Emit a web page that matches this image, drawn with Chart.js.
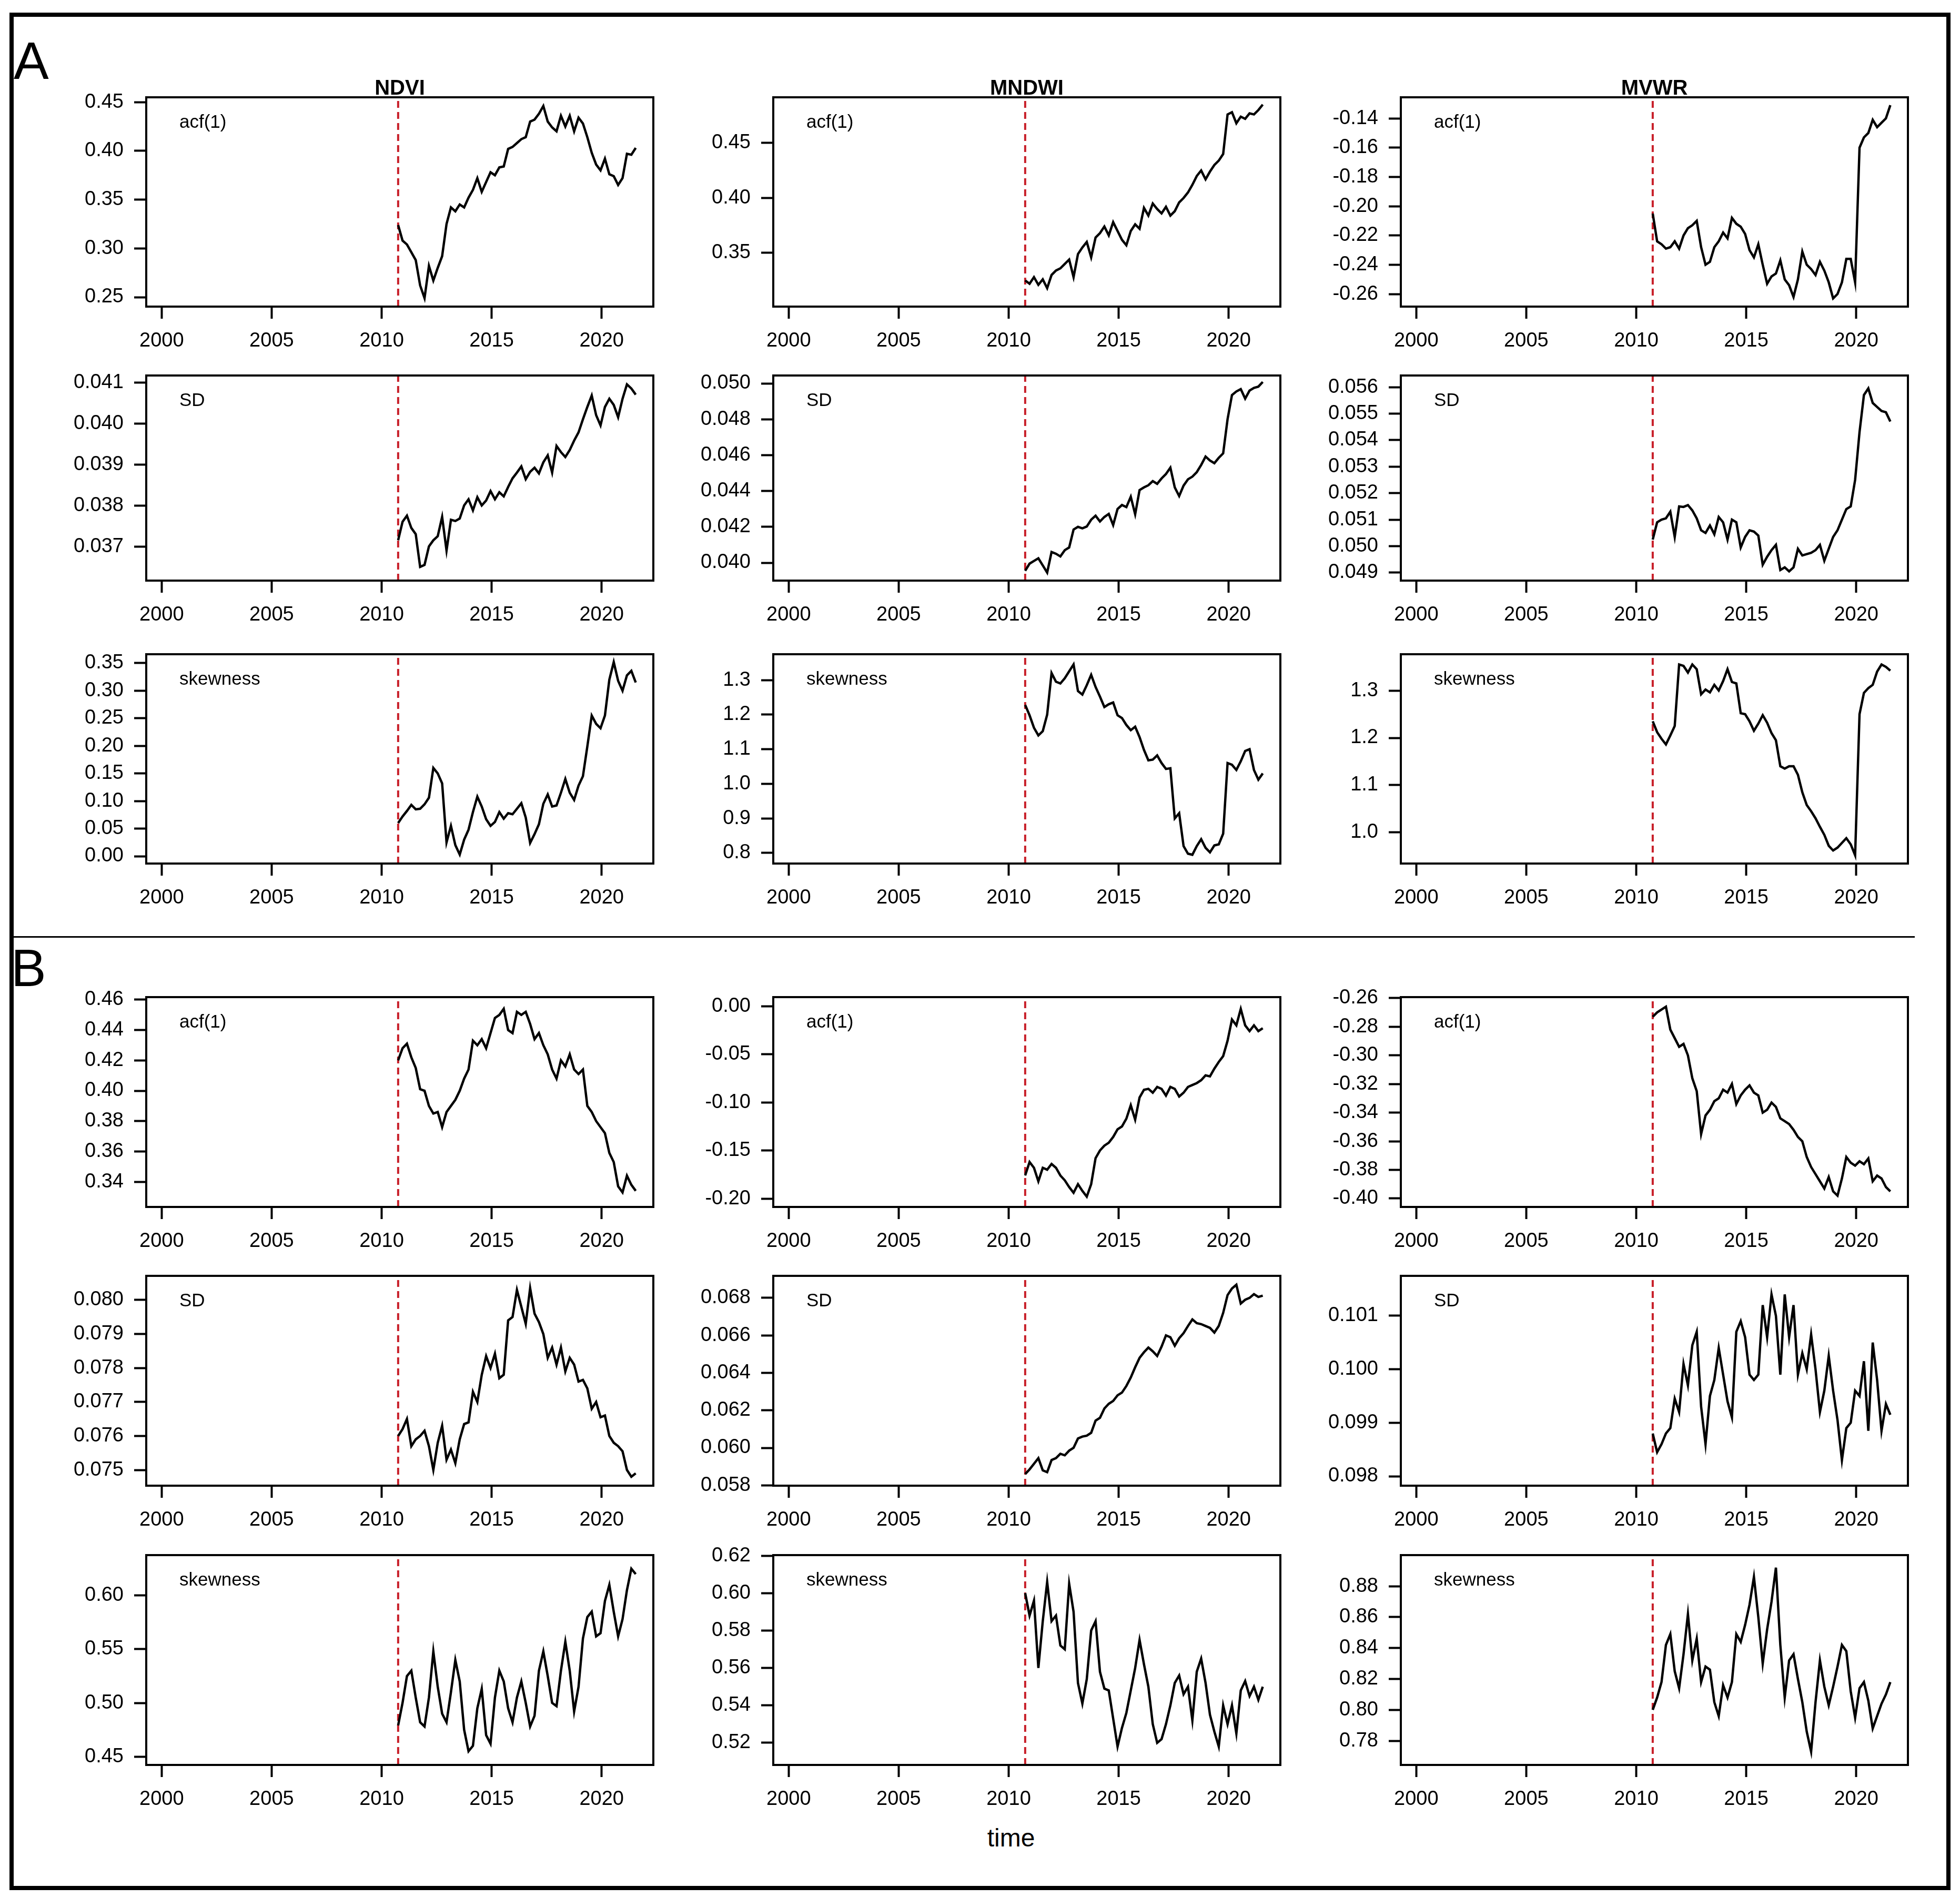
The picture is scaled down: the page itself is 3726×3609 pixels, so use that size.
<!DOCTYPE html>
<html>
<head>
<meta charset="utf-8">
<title>Rolling window indicators</title>
<script src="https://cdn.jsdelivr.net/npm/chart.js@4.4.1/dist/chart.umd.min.js"></script>
<style>
  html, body { margin: 0; padding: 0; background: #fff; }
  body { width: 3726px; height: 3609px; position: relative; overflow: hidden; font-family: 'Liberation Sans', Arial, sans-serif; color: #000; }
  #frame { position: absolute; left: 18px; top: 24px; width: 3690px; height: 3570px; border: 8px solid #000; box-sizing: border-box; }
  #divider { position: absolute; left: 22px; top: 1780px; width: 3618px; height: 3px; background: #000; }
  .txt { position: absolute; line-height: 1; white-space: nowrap; }
  .big { font-size: 100px; }
  .head { font-size: 40px; font-weight: bold; transform: translateX(-50%); }
  .lab { font-size: 35px; }
  canvas { position: absolute; }
</style>
</head>
<body>
<div id="frame"></div>
<div id="divider"></div>

<script>
// time axis of the rolling window series (decimal years)
const time = [2010.75, 2010.95, 2011.15, 2011.35, 2011.55, 2011.75, 2011.95, 2012.15, 2012.35, 2012.55,
  2012.75, 2012.95, 2013.15, 2013.35, 2013.55, 2013.75, 2013.95, 2014.15, 2014.35, 2014.55,
  2014.75, 2014.95, 2015.15, 2015.35, 2015.55, 2015.75, 2015.95, 2016.15, 2016.35, 2016.55,
  2016.75, 2016.95, 2017.15, 2017.35, 2017.55, 2017.75, 2017.95, 2018.15, 2018.35, 2018.55,
  2018.75, 2018.95, 2019.15, 2019.35, 2019.55, 2019.75, 2019.95, 2020.15, 2020.35, 2020.55,
  2020.75, 2020.95, 2021.15, 2021.35, 2021.55];
const breakYear = 2010.75;
const xTickLabels = ['2000', '2005', '2010', '2015', '2020'];
const xLimits = [1999.3, 2022.35];
const columnTitles = ['NDVI', 'MNDWI', 'MVWR'];
const rowLabels = ['acf(1)', 'SD', 'skewness'];

// ---- panel A ----
const ndviAcfA = [0.324, 0.308, 0.304, 0.296, 0.288, 0.262, 0.249, 0.282, 0.267, 0.280,
  0.292, 0.325, 0.342, 0.338, 0.345, 0.342, 0.352, 0.360, 0.372, 0.358,
  0.368, 0.378, 0.375, 0.383, 0.384, 0.402, 0.404, 0.408, 0.412, 0.414,
  0.430, 0.432, 0.438, 0.446, 0.430, 0.424, 0.420, 0.436, 0.425, 0.436,
  0.420, 0.434, 0.428, 0.414, 0.398, 0.386, 0.380, 0.392, 0.376, 0.374,
  0.365, 0.372, 0.397, 0.396, 0.403];
const mndwiAcfA = [0.325, 0.322, 0.328, 0.321, 0.326, 0.318, 0.330, 0.334, 0.336, 0.340,
  0.344, 0.328, 0.349, 0.355, 0.360, 0.346, 0.364, 0.368, 0.374, 0.366,
  0.378, 0.370, 0.362, 0.357, 0.370, 0.376, 0.372, 0.391, 0.384, 0.395,
  0.390, 0.386, 0.392, 0.384, 0.388, 0.396, 0.400, 0.405, 0.412, 0.420,
  0.425, 0.417, 0.424, 0.430, 0.434, 0.440, 0.476, 0.478, 0.468, 0.474,
  0.472, 0.477, 0.476, 0.480, 0.485];
const mvwrAcfA = [-0.205, -0.224, -0.226, -0.229, -0.228, -0.224, -0.229, -0.220, -0.215, -0.213,
  -0.210, -0.228, -0.240, -0.238, -0.228, -0.224, -0.218, -0.222, -0.208, -0.212,
  -0.214, -0.219, -0.230, -0.235, -0.226, -0.240, -0.253, -0.248, -0.246, -0.237,
  -0.250, -0.254, -0.262, -0.250, -0.231, -0.240, -0.243, -0.247, -0.238, -0.244,
  -0.252, -0.263, -0.260, -0.252, -0.236, -0.236, -0.252, -0.160, -0.153, -0.150,
  -0.141, -0.146, -0.143, -0.140, -0.131];
const ndviSdA = [0.03715, 0.03760, 0.03775, 0.03745, 0.03730, 0.03650, 0.03655, 0.03700, 0.03715, 0.03725,
  0.03772, 0.03690, 0.03765, 0.03762, 0.03768, 0.03800, 0.03815, 0.03788, 0.03820, 0.03800,
  0.03812, 0.03835, 0.03815, 0.03832, 0.03822, 0.03845, 0.03866, 0.03880, 0.03895, 0.03864,
  0.03882, 0.03892, 0.03878, 0.03905, 0.03922, 0.03880, 0.03945, 0.03930, 0.03918, 0.03935,
  0.03958, 0.03978, 0.04010, 0.04040, 0.04068, 0.04020, 0.03995, 0.04040, 0.04060, 0.04045,
  0.04015, 0.04060, 0.04095, 0.04085, 0.04070];
const mndwiSdA = [0.03955, 0.03995, 0.04010, 0.04025, 0.03985, 0.03945, 0.04060, 0.04050, 0.04035, 0.04070,
  0.04085, 0.04185, 0.04200, 0.04192, 0.04202, 0.04240, 0.04262, 0.04230, 0.04255, 0.04272,
  0.04210, 0.04300, 0.04322, 0.04310, 0.04368, 0.04270, 0.04405, 0.04420, 0.04432, 0.04455,
  0.04440, 0.04470, 0.04495, 0.04530, 0.04420, 0.04372, 0.04430, 0.04465, 0.04480, 0.04505,
  0.04545, 0.04592, 0.04570, 0.04555, 0.04585, 0.04610, 0.04800, 0.04935, 0.04955, 0.04968,
  0.04915, 0.04960, 0.04975, 0.04982, 0.05008];
const mvwrSdA = [0.05025, 0.05090, 0.05100, 0.05105, 0.05130, 0.05035, 0.05150, 0.05148, 0.05155, 0.05135,
  0.05105, 0.05060, 0.05050, 0.05078, 0.05045, 0.05110, 0.05090, 0.05025, 0.05100, 0.05090,
  0.04995, 0.05035, 0.05060, 0.05055, 0.05040, 0.04930, 0.04960, 0.04985, 0.05005, 0.04910,
  0.04920, 0.04905, 0.04920, 0.04990, 0.04965, 0.04970, 0.04975, 0.04985, 0.05005, 0.04945,
  0.04990, 0.05035, 0.05060, 0.05100, 0.05140, 0.05150, 0.05250, 0.05430, 0.05570, 0.05595,
  0.05540, 0.05525, 0.05510, 0.05505, 0.05470];
const ndviSkewA = [0.060, 0.072, 0.082, 0.093, 0.085, 0.086, 0.094, 0.106, 0.160, 0.150,
  0.132, 0.025, 0.055, 0.020, 0.003, 0.030, 0.048, 0.080, 0.108, 0.090,
  0.067, 0.055, 0.062, 0.080, 0.068, 0.078, 0.076, 0.086, 0.096, 0.070,
  0.024, 0.040, 0.058, 0.095, 0.112, 0.090, 0.092, 0.115, 0.140, 0.115,
  0.102, 0.128, 0.145, 0.199, 0.255, 0.240, 0.232, 0.255, 0.320, 0.352,
  0.318, 0.300, 0.328, 0.336, 0.315];
const mndwiSkewA = [1.228, 1.198, 1.162, 1.140, 1.152, 1.200, 1.320, 1.295, 1.290, 1.305,
  1.325, 1.345, 1.268, 1.258, 1.285, 1.315, 1.280, 1.252, 1.222, 1.230,
  1.235, 1.198, 1.190, 1.170, 1.155, 1.165, 1.135, 1.098, 1.068, 1.070,
  1.082, 1.060, 1.043, 1.045, 0.900, 0.915, 0.820, 0.798, 0.795, 0.820,
  0.840, 0.815, 0.802, 0.822, 0.825, 0.856, 1.060, 1.055, 1.040, 1.065,
  1.095, 1.100, 1.040, 1.012, 1.030];
const mvwrSkewA = [1.235, 1.212, 1.198, 1.186, 1.205, 1.225, 1.355, 1.352, 1.338, 1.355,
  1.345, 1.292, 1.302, 1.296, 1.312, 1.300, 1.320, 1.345, 1.318, 1.315,
  1.252, 1.250, 1.235, 1.215, 1.230, 1.248, 1.232, 1.210, 1.195, 1.140,
  1.135, 1.140, 1.140, 1.122, 1.085, 1.058, 1.045, 1.030, 1.012, 0.995,
  0.972, 0.962, 0.968, 0.978, 0.988, 0.975, 0.952, 1.250, 1.295, 1.305,
  1.312, 1.340, 1.355, 1.350, 1.342];

// ---- panel B ----
const ndviAcfB = [0.420, 0.428, 0.431, 0.422, 0.415, 0.401, 0.400, 0.390, 0.385, 0.386,
  0.376, 0.386, 0.390, 0.394, 0.400, 0.408, 0.414, 0.433, 0.430, 0.434,
  0.428, 0.438, 0.448, 0.450, 0.454, 0.440, 0.438, 0.452, 0.450, 0.452,
  0.444, 0.434, 0.438, 0.430, 0.424, 0.414, 0.408, 0.420, 0.416, 0.424,
  0.414, 0.411, 0.414, 0.390, 0.386, 0.380, 0.376, 0.372, 0.359, 0.353,
  0.337, 0.333, 0.344, 0.338, 0.334];
const mndwiAcfB = [-0.176, -0.162, -0.168, -0.182, -0.168, -0.170, -0.164, -0.168, -0.176, -0.181,
  -0.188, -0.194, -0.185, -0.192, -0.198, -0.185, -0.158, -0.150, -0.145, -0.142,
  -0.136, -0.128, -0.125, -0.117, -0.103, -0.118, -0.095, -0.087, -0.086, -0.090,
  -0.084, -0.086, -0.093, -0.084, -0.086, -0.094, -0.090, -0.084, -0.082, -0.080,
  -0.077, -0.072, -0.073, -0.065, -0.058, -0.052, -0.036, -0.014, -0.020, -0.003,
  -0.020, -0.026, -0.020, -0.026, -0.023];
const mvwrAcfB = [-0.273, -0.270, -0.268, -0.266, -0.282, -0.288, -0.294, -0.292, -0.300, -0.316,
  -0.325, -0.355, -0.342, -0.338, -0.332, -0.330, -0.324, -0.326, -0.320, -0.334,
  -0.328, -0.324, -0.321, -0.326, -0.328, -0.340, -0.338, -0.333, -0.336, -0.344,
  -0.346, -0.348, -0.352, -0.357, -0.360, -0.371, -0.378, -0.383, -0.388, -0.393,
  -0.385, -0.395, -0.398, -0.386, -0.371, -0.375, -0.377, -0.374, -0.376, -0.372,
  -0.388, -0.384, -0.386, -0.392, -0.395];
const ndviSdB = [0.07600, 0.07620, 0.07650, 0.07570, 0.07590, 0.07600, 0.07615, 0.07570, 0.07500, 0.07580,
  0.07630, 0.07530, 0.07560, 0.07520, 0.07590, 0.07635, 0.07640, 0.07730, 0.07700, 0.07780,
  0.07835, 0.07800, 0.07842, 0.07770, 0.07780, 0.07940, 0.07950, 0.08030, 0.07980, 0.07930,
  0.08035, 0.07960, 0.07935, 0.07900, 0.07830, 0.07860, 0.07810, 0.07860, 0.07790, 0.07830,
  0.07810, 0.07760, 0.07765, 0.07740, 0.07680, 0.07700, 0.07655, 0.07660, 0.07600, 0.07580,
  0.07570, 0.07555, 0.07500, 0.07480, 0.07490];
const mndwiSdB = [0.05860, 0.05885, 0.05915, 0.05945, 0.05880, 0.05870, 0.05935, 0.05945, 0.05968, 0.05960,
  0.05985, 0.06000, 0.06050, 0.06060, 0.06065, 0.06080, 0.06145, 0.06160, 0.06210, 0.06235,
  0.06250, 0.06280, 0.06295, 0.06330, 0.06375, 0.06430, 0.06480, 0.06510, 0.06535, 0.06515,
  0.06490, 0.06540, 0.06600, 0.06590, 0.06545, 0.06585, 0.06612, 0.06650, 0.06685, 0.06665,
  0.06660, 0.06650, 0.06640, 0.06615, 0.06650, 0.06720, 0.06815, 0.06850, 0.06870, 0.06770,
  0.06790, 0.06800, 0.06820, 0.06805, 0.06812];
const mvwrSdB = [0.09880, 0.09845, 0.09860, 0.09880, 0.09890, 0.09945, 0.09920, 0.10010, 0.09970, 0.10045,
  0.10070, 0.09930, 0.09860, 0.09950, 0.09980, 0.10040, 0.09990, 0.09940, 0.09910, 0.10070,
  0.10090, 0.10060, 0.09990, 0.09980, 0.09990, 0.10120, 0.10060, 0.10140, 0.10100, 0.09990,
  0.10140, 0.10060, 0.10120, 0.09990, 0.10030, 0.10000, 0.10065, 0.10000, 0.09920, 0.09960,
  0.10025, 0.09960, 0.09905, 0.09830, 0.09890, 0.09900, 0.09960, 0.09950, 0.10015, 0.09885,
  0.10050, 0.09980, 0.09885, 0.09935, 0.09915];
const ndviSkewB = [0.479, 0.500, 0.525, 0.530, 0.505, 0.482, 0.478, 0.505, 0.548, 0.515,
  0.490, 0.482, 0.510, 0.540, 0.520, 0.475, 0.455, 0.460, 0.495, 0.513,
  0.470, 0.462, 0.505, 0.530, 0.520, 0.495, 0.482, 0.505, 0.520, 0.500,
  0.478, 0.488, 0.530, 0.548, 0.525, 0.500, 0.497, 0.530, 0.557, 0.530,
  0.492, 0.515, 0.560, 0.580, 0.585, 0.562, 0.565, 0.595, 0.610, 0.585,
  0.562, 0.578, 0.605, 0.625, 0.620];
const mndwiSkewB = [0.600, 0.588, 0.596, 0.560, 0.585, 0.606, 0.585, 0.588, 0.572, 0.570,
  0.605, 0.590, 0.552, 0.541, 0.554, 0.580, 0.585, 0.558, 0.549, 0.548,
  0.533, 0.518, 0.528, 0.536, 0.548, 0.560, 0.575, 0.562, 0.550, 0.530,
  0.520, 0.522, 0.530, 0.540, 0.552, 0.556, 0.546, 0.550, 0.532, 0.558,
  0.565, 0.552, 0.535, 0.526, 0.518, 0.540, 0.530, 0.540, 0.525, 0.548,
  0.553, 0.545, 0.550, 0.543, 0.550];
const mvwrSkewB = [0.800, 0.808, 0.818, 0.842, 0.849, 0.825, 0.814, 0.836, 0.862, 0.832,
  0.846, 0.818, 0.828, 0.826, 0.805, 0.796, 0.816, 0.808, 0.818, 0.849,
  0.844, 0.855, 0.868, 0.886, 0.860, 0.830, 0.852, 0.870, 0.892, 0.842,
  0.808, 0.832, 0.836, 0.820, 0.805, 0.786, 0.773, 0.805, 0.832, 0.815,
  0.803, 0.815, 0.828, 0.842, 0.838, 0.812, 0.795, 0.814, 0.818, 0.806,
  0.788, 0.796, 0.804, 0.810, 0.818];

// y tick labels for each panel
const ndviAcfATicks = ['0.25', '0.30', '0.35', '0.40', '0.45'];
const mndwiAcfATicks = ['0.35', '0.40', '0.45'];
const mvwrAcfATicks = ['-0.26', '-0.24', '-0.22', '-0.20', '-0.18', '-0.16', '-0.14'];
const ndviSdATicks = ['0.037', '0.038', '0.039', '0.040', '0.041'];
const mndwiSdATicks = ['0.040', '0.042', '0.044', '0.046', '0.048', '0.050'];
const mvwrSdATicks = ['0.049', '0.050', '0.051', '0.052', '0.053', '0.054', '0.055', '0.056'];
const ndviSkewATicks = ['0.00', '0.05', '0.10', '0.15', '0.20', '0.25', '0.30', '0.35'];
const mndwiSkewATicks = ['0.8', '0.9', '1.0', '1.1', '1.2', '1.3'];
const mvwrSkewATicks = ['1.0', '1.1', '1.2', '1.3'];
const ndviAcfBTicks = ['0.34', '0.36', '0.38', '0.40', '0.42', '0.44', '0.46'];
const mndwiAcfBTicks = ['-0.20', '-0.15', '-0.10', '-0.05', '0.00'];
const mvwrAcfBTicks = ['-0.40', '-0.38', '-0.36', '-0.34', '-0.32', '-0.30', '-0.28', '-0.26'];
const ndviSdBTicks = ['0.075', '0.076', '0.077', '0.078', '0.079', '0.080'];
const mndwiSdBTicks = ['0.058', '0.060', '0.062', '0.064', '0.066', '0.068'];
const mvwrSdBTicks = ['0.098', '0.099', '0.100', '0.101'];
const ndviSkewBTicks = ['0.45', '0.50', '0.55', '0.60'];
const mndwiSkewBTicks = ['0.52', '0.54', '0.56', '0.58', '0.60', '0.62'];
const mvwrSkewBTicks = ['0.78', '0.80', '0.82', '0.84', '0.86', '0.88'];

// y axis limits for each panel
const ndviAcfALim = [0.2403, 0.4549];
const mndwiAcfALim = [0.3012, 0.4916];
const mvwrAcfALim = [-0.2686, -0.1256];
const ndviSdALim = [0.036167, 0.041167];
const mndwiSdALim = [0.039003, 0.05044];
const mvwrSdALim = [0.048702, 0.056437];
const ndviSkewALim = [-0.01335, 0.3662];
const mndwiSkewALim = [0.7696, 1.3745];
const mvwrSkewALim = [0.9344, 1.3767];
const ndviAcfBLim = [0.3234, 0.4617];
const mndwiAcfBLim = [-0.2087, 0.0093];
const mvwrAcfBLim = [-0.4059, -0.2593];
const ndviSdBLim = [0.074536, 0.080712];
const mndwiSdBLim = [0.05798, 0.069176];
const mvwrSdBLim = [0.097823, 0.101747];
const ndviSkewBLim = [0.4422, 0.6377];
const mndwiSkewBLim = [0.5082, 0.6203];
const mvwrSkewBLim = [0.7644, 0.9001];

// page layout (pixels)
const rowTops = [185, 714, 1244, 1896, 2426, 2957];
const rowBottoms = [583, 1104, 1642, 2295, 2825, 3356];
const colLefts = [278, 1470, 2663];
const boxWidth = 964;
const AXIS_W = 200, AXIS_H = 110, PAD_T = 40, PAD_R = 40;

const panels = [
  [ndviAcfA, ndviAcfATicks, ndviAcfALim], [mndwiAcfA, mndwiAcfATicks, mndwiAcfALim], [mvwrAcfA, mvwrAcfATicks, mvwrAcfALim],
  [ndviSdA, ndviSdATicks, ndviSdALim], [mndwiSdA, mndwiSdATicks, mndwiSdALim], [mvwrSdA, mvwrSdATicks, mvwrSdALim],
  [ndviSkewA, ndviSkewATicks, ndviSkewALim], [mndwiSkewA, mndwiSkewATicks, mndwiSkewALim], [mvwrSkewA, mvwrSkewATicks, mvwrSkewALim],
  [ndviAcfB, ndviAcfBTicks, ndviAcfBLim], [mndwiAcfB, mndwiAcfBTicks, mndwiAcfBLim], [mvwrAcfB, mvwrAcfBTicks, mvwrAcfBLim],
  [ndviSdB, ndviSdBTicks, ndviSdBLim], [mndwiSdB, mndwiSdBTicks, mndwiSdBLim], [mvwrSdB, mvwrSdBTicks, mvwrSdBLim],
  [ndviSkewB, ndviSkewBTicks, ndviSkewBLim], [mndwiSkewB, mndwiSkewBTicks, mndwiSkewBLim], [mvwrSkewB, mvwrSkewBTicks, mvwrSkewBLim]
];

Chart.defaults.font.family = "'Liberation Sans', Arial, sans-serif";
Chart.defaults.color = '#000';

// draws the closed box around each plotting region
const boxPlugin = {
  id: 'box',
  afterDraw(chart) {
    const a = chart.chartArea, ctx = chart.ctx;
    ctx.save();
    ctx.strokeStyle = '#000';
    ctx.lineWidth = 4;
    ctx.strokeRect(a.left, a.top, a.right - a.left, a.bottom - a.top);
    ctx.restore();
  }
};

function addText(cls, text, left, top) {
  const d = document.createElement('div');
  d.className = 'txt ' + cls;
  d.textContent = text;
  d.style.left = left + 'px';
  d.style.top = top + 'px';
  document.body.appendChild(d);
}

panels.forEach((p, k) => {
  const [values, yLabels, yLim] = p;
  const row = Math.floor(k / 3), col = k % 3;
  const boxH = rowBottoms[row] - rowTops[row];
  const canvas = document.createElement('canvas');
  canvas.width = boxWidth + AXIS_W + PAD_R;
  canvas.height = boxH + PAD_T + AXIS_H;
  canvas.style.left = (colLefts[col] - AXIS_W) + 'px';
  canvas.style.top = (rowTops[row] - PAD_T) + 'px';
  canvas.style.width = canvas.width + 'px';
  canvas.style.height = canvas.height + 'px';
  document.body.appendChild(canvas);

  new Chart(canvas, {
    type: 'line',
    data: {
      datasets: [{
        data: time.map((t, i) => ({ x: t, y: values[i] })),
        borderColor: '#000',
        borderWidth: 4.5,
        pointRadius: 0,
        tension: 0,
        fill: false
      }, {
        data: [{ x: breakYear, y: yLim[0] }, { x: breakYear, y: yLim[1] }],
        borderColor: '#c8202a',
        borderWidth: 4,
        borderDash: [13, 8],
        pointRadius: 0,
        fill: false
      }]
    },
    options: {
      responsive: false,
      animation: false,
      devicePixelRatio: 1,
      layout: { padding: { top: PAD_T, right: PAD_R, left: 0, bottom: 0 } },
      plugins: { legend: { display: false }, tooltip: { enabled: false } },
      scales: {
        x: {
          type: 'linear',
          min: xLimits[0],
          max: xLimits[1],
          afterBuildTicks: s => { s.ticks = xTickLabels.map(l => ({ value: parseFloat(l) })); },
          afterFit: s => { s.height = AXIS_H; s.paddingLeft = 0; s.paddingRight = 0; },
          ticks: { callback: (v, i) => xTickLabels[i], font: { size: 38 }, padding: 20, maxRotation: 0, autoSkip: false },
          grid: { drawOnChartArea: false, drawTicks: true, tickLength: 23, tickWidth: 4, tickColor: '#000' },
          border: { display: true, color: '#000', width: 4 }
        },
        y: {
          type: 'linear',
          min: yLim[0],
          max: yLim[1],
          afterBuildTicks: s => { s.ticks = yLabels.map(l => ({ value: parseFloat(l) })); },
          afterFit: s => { s.width = AXIS_W; s.paddingTop = 0; s.paddingBottom = 0; },
          ticks: { callback: (v, i) => yLabels[i], font: { size: 38 }, padding: 20, autoSkip: false },
          grid: { drawOnChartArea: false, drawTicks: true, tickLength: 23, tickWidth: 4, tickColor: '#000' },
          border: { display: true, color: '#000', width: 4 }
        }
      }
    },
    plugins: [boxPlugin]
  });

  addText('lab', rowLabels[row % 3], colLefts[col] + 63, rowTops[row] + 28);
});

// titles and panel letters
columnTitles.forEach((t, c) => addText('head', t, colLefts[c] + boxWidth / 2, 146));
addText('big', 'A', 26, 65);
addText('big', 'B', 21, 1790);
const timeLabel = document.createElement('div');
timeLabel.className = 'txt';
timeLabel.style.fontSize = '48px';
timeLabel.style.left = '1922px';
timeLabel.style.top = '3471px';
timeLabel.style.transform = 'translateX(-50%)';
timeLabel.textContent = 'time';
document.body.appendChild(timeLabel);
</script>
</body>
</html>
